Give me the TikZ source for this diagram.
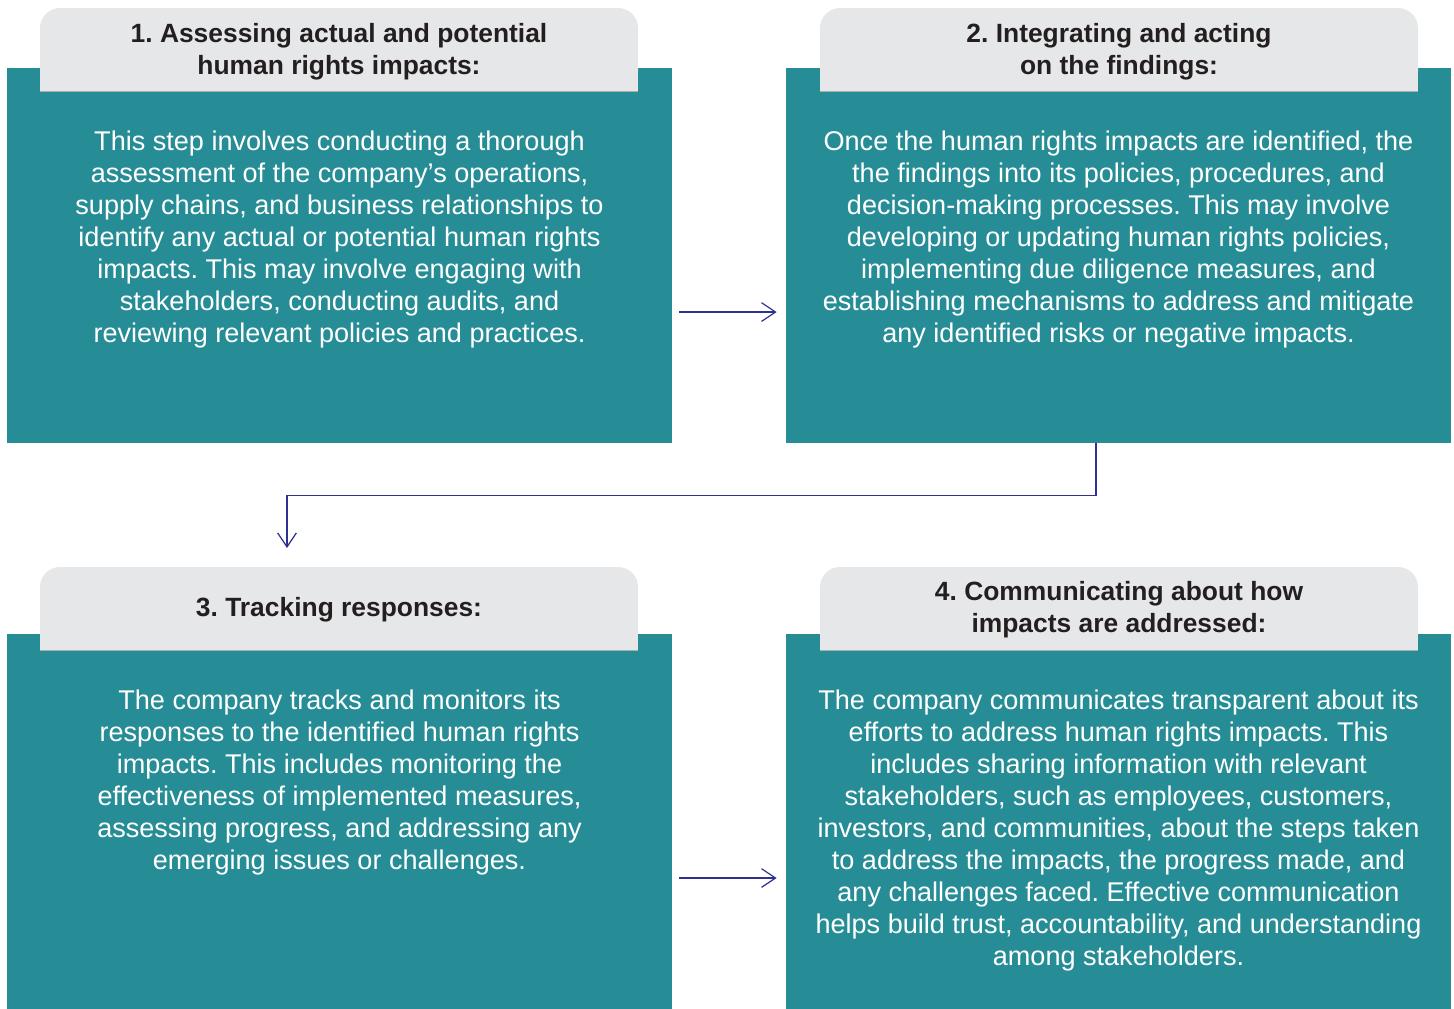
\documentclass[tikz,border=0pt]{standalone}
\usepackage{fontspec}
\setmainfont{Liberation Sans}
\usepackage{xcolor}
\usepackage{tikz}
\usetikzlibrary{arrows.meta, positioning}

\definecolor{stepteal}{RGB}{38,141,150}
\definecolor{tabgray}{RGB}{230,231,232}
\definecolor{tabtext}{RGB}{35,31,32}
\definecolor{flowblue}{RGB}{46,49,146}
\frenchspacing

\begin{document}
\begin{tikzpicture}[x=0.75pt, y=-0.75pt, >={Straight Barb[length=10.5pt, width=14pt]}, semithick]
		\tikzstyle{panel}=[rectangle, fill=stepteal, minimum width=498.75pt, minimum height=281.25pt, inner sep=0pt]
		\tikzstyle{tabtitle}=[text=tabtext, align=center, inner sep=0pt, font=\fontsize{19.8}{24}\selectfont\bfseries]
		\tikzstyle{steptext}=[text=white, align=center, inner sep=0pt, anchor=north, font=\fontsize{20.3}{24}\selectfont]
		\tikzstyle{flow}=[->, draw=flowblue, line width=0.9pt]

		\useasboundingbox (0,0) rectangle (1454,1008);

		% teal panels
		\node[panel] (box1) at (339.5,255.5) {};
		\node[panel] (box2) at (1118.5,255.5) {};
		\node[panel] (box3) at (339.5,821) {};
		\node[panel] (box4) at (1118.5,821) {};

		% grey tabs on top of the panels
		\foreach \tx/\ty in {40/8, 820/8, 40/567, 820/567} {
				\fill[tabgray, rounded corners=15pt] (\tx,\ty) rectangle ++(598,83);
				\fill[tabgray] (\tx,\ty+40) rectangle ++(598,43);
				\draw[tabgray!75!black, line width=0.6pt] (\tx,\ty+83) -- ++(598,0);
			}

		\node[tabtitle] (head1) at (339,52) {1. Assessing actual and potential\\ human rights impacts:};
		\node[tabtitle] (head2) at (1119,52) {2. Integrating and acting\\ on the findings:};
		\node[tabtitle] (head3) at (339,610) {3. Tracking responses:};
		\node[tabtitle] (head4) at (1119,610) {4. Communicating about how\\ impacts are addressed:};

		\node[steptext] (text1) at (339.5,130.5) {
				This step involves conducting a thorough\\ assessment of the company's operations,\\
				supply chains, and business relationships to\\ identify any actual or potential human rights\\
				impacts. This may involve engaging with\\ stakeholders, conducting audits, and\\
				reviewing relevant policies and practices.
			};
		\node[steptext] (text2) at (1118.5,130.5) {
				Once the human rights impacts are identified, the\\ the findings into its policies, procedures, and\\
				decision-making processes. This may involve\\ developing or updating human rights policies,\\
				implementing due diligence measures, and\\ establishing mechanisms to address and mitigate\\
				any identified risks or negative impacts.
			};
		\node[steptext] (text3) at (339.5,689) {
				The company tracks and monitors its\\ responses to the identified human rights\\
				impacts. This includes monitoring the\\ effectiveness of implemented measures,\\
				assessing progress, and addressing any\\ emerging issues or challenges.
			};
		\node[steptext] (text4) at (1118.5,689) {
				The company communicates transparent about its\\ efforts to address human rights impacts. This\\
				includes sharing information with relevant\\ stakeholders, such as employees, customers,\\
				investors, and communities, about the steps taken\\ to address the impacts, the progress made, and\\
				any challenges faced. Effective communication\\ helps build trust, accountability, and understanding\\
				among stakeholders.
			};

		% connectors
		\coordinate (drop) at (287,548);
		\draw[flow] ([xshift=5.25pt, yshift=-42.4pt]box1.east) -- ([xshift=-6.75pt, yshift=-42.4pt]box2.west);
		\draw[flow] ([xshift=-16.9pt]box2.south) -- ++(0,52) -| (drop);
		\draw[flow] ([xshift=5.25pt, yshift=-42.75pt]box3.east) -- ([xshift=-6.75pt, yshift=-42.75pt]box4.west);
	\end{tikzpicture}
\end{document}
